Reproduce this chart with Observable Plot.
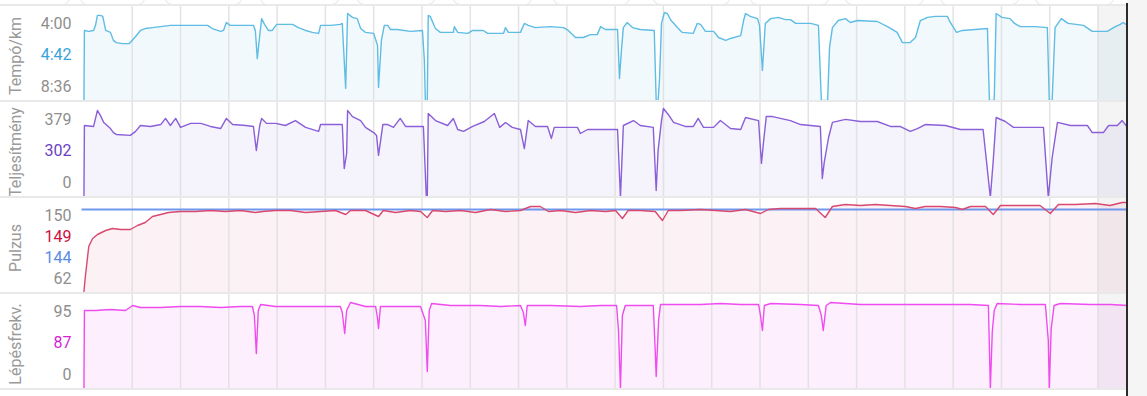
<!DOCTYPE html>
<html><head><meta charset="utf-8">
<script src="https://cdn.jsdelivr.net/npm/d3@7"></script>
<script src="https://cdn.jsdelivr.net/npm/@observablehq/plot@0.6"></script>
<style>
body{margin:0;background:#fff;font-family:Roboto,sans-serif;}
#wrap{position:relative;width:1147px;height:396px;overflow:hidden;background:#fff;}
.panel{position:absolute;left:0;width:1147px;height:96px;}
.panel svg{display:block;}
.sep{position:absolute;left:0;width:1127px;height:2px;background:#e9e9e9;}
.tab{position:absolute;top:-12px;height:15px;border:1px solid #e3e3e3;border-radius:7px;background:#fff;}
#rightbg{position:absolute;left:1127px;top:0;width:20px;height:396px;background:#f5f5f5;}
#cursor{position:absolute;left:1126px;top:3px;width:1.6px;height:393px;background:#2b2b2b;}
</style></head><body><div id="wrap"></div>
<script>
// ---- data (x in km) ----
const gridKm = [1,2,3,4,5,6,7,8,9,10,11,12,13,14,15,16,17,18,19,20,21];
const highlightKm = [21, 21.61];

const paceKm = [0,0.01,0.10,0.20,0.24,0.28,0.34,0.39,0.45,0.55,0.61,0.67,0.80,0.94,1.07,1.17,1.27,1.42,1.59,1.79,2.00,2.31,2.56,2.66,2.83,2.89,2.95,3.03,3.35,3.51,3.55,3.59,3.64,3.68,3.74,3.82,3.90,3.99,4.17,4.32,4.44,4.59,4.73,4.86,4.90,5.11,5.31,5.35,5.42,5.46,5.56,5.66,5.73,5.83,6.00,6.08,6.10,6.16,6.22,6.29,6.35,6.49,6.76,7.01,7.05,7.07,7.11,7.13,7.17,7.28,7.38,7.65,7.67,7.74,7.95,8.05,8.27,8.36,8.69,8.73,8.79,9.04,9.12,9.20,9.35,9.66,9.93,10.03,10.18,10.34,10.49,10.63,10.70,10.80,11.05,11.09,11.13,11.17,11.25,11.36,11.52,11.81,11.85,11.89,11.92,11.96,12.02,12.08,12.16,12.29,12.39,12.62,12.70,12.77,12.87,13.04,13.14,13.29,13.39,13.60,13.66,13.70,13.80,13.95,13.99,14.05,14.11,14.22,14.38,14.53,14.63,14.74,15.05,15.21,15.27,15.40,15.44,15.50,15.62,15.77,15.87,16.02,16.43,16.64,16.84,16.95,17.11,17.22,17.32,17.47,17.63,17.88,17.94,18.07,18.19,18.46,18.71,18.75,18.85,18.89,19.01,19.18,19.27,19.39,19.70,19.95,19.99,20.05,20.11,20.24,20.38,20.70,20.88,21.19,21.36,21.46,21.52,21.61];
const paceSec = [516,294,297,294,278,247,247,250,294,300,325,332,335,335,313,294,288,285,282,278,278,278,278,288,297,294,269,278,278,278,294,382,310,257,275,294,294,275,275,275,285,294,300,303,278,278,275,272,475,241,253,257,288,300,303,341,472,325,278,278,291,291,297,294,388,513,513,247,250,288,300,300,282,300,303,294,294,303,303,285,300,300,272,278,285,282,285,294,316,316,307,307,282,291,291,444,357,285,269,285,291,294,513,513,444,272,238,241,263,285,300,303,272,275,297,297,316,325,319,310,263,241,250,257,278,419,272,257,253,260,260,272,272,278,513,513,347,285,263,257,269,263,266,282,300,332,332,316,263,253,250,250,269,300,294,291,288,513,513,241,253,257,272,282,282,285,513,513,285,257,272,278,297,297,282,275,269,278];

const powerKm = [0,0.01,0.20,0.24,0.28,0.34,0.41,0.55,0.61,0.67,0.96,1.07,1.17,1.38,1.59,1.69,1.79,1.90,2.00,2.21,2.42,2.62,2.83,2.95,3.08,3.35,3.51,3.57,3.64,3.68,3.78,3.97,4.17,4.38,4.59,4.86,4.90,5.21,5.35,5.39,5.44,5.46,5.56,5.73,5.83,6.00,6.06,6.10,6.19,6.29,6.41,6.55,6.66,7.03,7.09,7.11,7.13,7.28,7.53,7.65,7.74,7.86,8.05,8.29,8.50,8.61,8.73,8.87,9.04,9.12,9.20,9.35,9.60,9.68,9.74,10.22,10.28,10.43,11.05,11.11,11.17,11.38,11.52,11.79,11.85,11.89,11.96,12.00,12.10,12.21,12.45,12.62,12.72,12.83,13.04,13.18,13.39,13.60,13.70,13.97,14.03,14.07,14.13,14.26,14.63,14.84,15.25,15.29,15.33,15.42,15.50,15.77,16.08,16.43,16.70,16.90,17.11,17.26,17.42,17.84,18.15,18.62,18.77,18.83,18.89,19.08,19.25,19.87,19.97,20.05,20.16,20.43,20.78,20.88,21.11,21.22,21.40,21.50,21.61];
const powerW = [0,306,302,336,370,349,319,293,276,268,264,281,306,302,310,336,306,336,298,315,315,302,293,336,310,306,302,200,306,336,315,315,306,327,298,281,310,310,310,123,187,370,344,327,298,276,264,179,310,310,298,336,302,302,0,0,357,327,306,336,289,281,302,323,357,298,319,298,289,208,327,302,302,251,298,298,272,289,289,0,306,327,306,298,30,200,327,378,353,319,302,302,336,298,298,327,293,289,340,327,145,230,344,344,327,310,302,81,149,255,319,332,323,323,302,302,281,293,310,306,289,289,0,157,340,323,298,298,0,170,319,306,306,276,276,306,306,327,298];

const pulseKm = [0,0.03,0.10,0.18,0.28,0.45,0.59,0.76,0.96,1.11,1.27,1.42,1.59,1.75,2.00,2.31,2.62,2.93,3.24,3.55,3.70,3.97,4.28,4.59,4.90,5.21,5.42,5.52,5.83,6.10,6.20,6.45,6.76,6.97,7.11,7.22,7.49,7.80,8.11,8.42,8.73,9.04,9.25,9.45,9.62,9.87,10.18,10.49,10.80,11.01,11.15,11.27,11.52,11.83,11.98,12.10,12.35,12.77,13.08,13.39,13.70,14.01,14.17,14.42,14.84,15.15,15.35,15.50,15.77,16.08,16.39,16.70,17.01,17.22,17.42,17.74,18.05,18.19,18.36,18.67,18.83,18.98,19.39,19.80,20.01,20.18,20.53,20.94,21.25,21.50,21.61];
const pulseBpm = [62,77,107,115,119,123,125,124,124,128,131,137,139,141,142,142,143,142,143,141,142,143,143,141,142,143,139,143,143,137,143,141,143,142,136,143,142,143,141,144,142,143,147,147,142,143,141,143,142,143,135,143,143,142,133,143,143,144,143,142,144,140,144,145,145,145,136,147,149,148,149,148,147,145,147,147,146,144,147,147,139,148,148,148,140,149,149,150,148,151,151];
const pulseRef = [144];

const cadKm = [0,0.01,0.24,0.55,0.86,1.01,1.17,1.59,2.00,2.41,2.83,3.24,3.49,3.53,3.57,3.61,3.66,3.97,4.49,4.90,5.31,5.35,5.40,5.44,5.52,5.83,6.04,6.08,6.10,6.14,6.45,6.97,7.07,7.11,7.15,7.20,7.59,8.21,8.63,9.04,9.10,9.14,9.18,9.66,10.28,10.70,11.03,11.07,11.11,11.15,11.21,11.52,11.79,11.83,11.85,11.90,11.94,12.35,12.77,13.18,13.60,13.97,14.01,14.05,14.09,14.22,14.84,15.21,15.27,15.31,15.37,15.46,16.08,16.91,17.74,18.36,18.73,18.77,18.81,18.85,18.91,19.39,19.91,19.97,19.99,20.03,20.09,20.22,20.84,21.25,21.61];
const cadSpm = [0,90.5,90.5,91.7,90.5,96.3,94.0,94.0,95.1,95.1,94.0,95.1,95.1,84.8,41.2,90.5,97.4,95.1,95.1,95.1,95.1,88.2,64.2,90.5,99.7,95.1,95.1,81.4,69.9,95.1,95.1,95.1,79.1,20.6,90.5,98.5,96.3,96.3,95.1,96.3,88.2,73.3,96.3,96.3,95.1,96.3,96.3,67.6,1.1,84.8,96.3,96.3,96.3,44.7,14.9,79.1,97.4,97.4,97.4,98.5,97.4,97.4,84.8,67.6,96.3,98.5,97.4,96.3,84.8,67.6,96.3,99.7,97.4,97.4,97.4,97.4,96.3,1.1,66.5,90.5,98.5,97.4,97.4,56.1,1.1,69.9,96.3,98.5,97.4,97.4,96.3];

const titles = ["Tempó/km", "Teljesítmény", "Pulzus", "Lépésfrekv."];
const paceLabels = ["4:00", "4:42", "8:36"];
const powerLabels = ["379", "302", "0"];
const pulseLabels = ["150", "149", "144", "62"];
const cadLabels = ["95", "87", "0"];

// ---- layout ----
const wrap = document.getElementById("wrap");
const GRAY = "#8e8e8e";
const tabs = [[-20,68],[80,143],[165,240],[260,337],[357,433],[453,530],[553,628],[653,728],[750,827],[845,922],[940,1017],[1035,1112]];
tabs.forEach(([a,b]) => {
  const t = document.createElement("div");
  t.className = "tab"; t.style.left = a + "px"; t.style.width = (b - a) + "px";
  wrap.appendChild(t);
});

const panels = [
  {top:5, km:paceKm, val:paceSec, domain:[216,516], reverse:true, base:516,
   color:"#5fbde3", area:"#f2f9fd", title:titles[0], labels:paceLabels,
   labelColors:[GRAY,"#3aa3d9",GRAY]},
  {top:101, km:powerKm, val:powerW, domain:[0,408], reverse:false, base:0,
   color:"#8a5fd8", area:"#f5f3fb", title:titles[1], labels:powerLabels,
   labelColors:[GRAY,"#6b3fc2",GRAY]},
  {top:197, km:pulseKm, val:pulseBpm, domain:[60,156], reverse:false, base:60,
   color:"#d9486f", area:"#fcf1f4", title:titles[2], labels:pulseLabels,
   labelColors:[GRAY,"#cc1040","#5a8ae6",GRAY], rule:pulseRef, ruleColor:"#6f98ec"},
  {top:293, km:cadKm, val:cadSpm, domain:[0,110], reverse:false, base:0,
   color:"#ef4cef", area:"#fdeffd", title:titles[3], labels:cadLabels,
   labelColors:[GRAY,"#d41fd4",GRAY]}
];

panels.forEach(p => {
  const data = p.km.map((k,i) => ({km:k, v:p.val[i]}));
  const n = p.labels.length;
  const step = (81 - 18) / (n - 1);
  const marks = [
    Plot.areaY(data, {x:"km", y1:p.base, y2:"v", fill:p.area}),
    Plot.rect([highlightKm], {x1:d=>d[0], x2:d=>d[1], fill:"#000", fillOpacity:0.045}),
    Plot.ruleX(gridKm, {stroke:"#dedede", strokeOpacity:0.85, strokeWidth:1.5}),
  ];
  if (p.rule) marks.push(Plot.ruleY(p.rule, {stroke:p.ruleColor, strokeWidth:2}));
  marks.push(Plot.line(data, {x:"km", y:"v", stroke:p.color, strokeWidth:1.4}));
  marks.push(Plot.text([p.title], {text:d=>d, frameAnchor:"left", dx:-66.5, dy:2.5, rotate:-90,
    textAnchor:"middle", lineAnchor:"middle", fill:"#9a9a9a", fontSize:16}));
  p.labels.forEach((l,i) => {
    marks.push(Plot.text([l], {text:d=>d, frameAnchor:"top-left", dx:-10.5, dy:18 + i*step,
      textAnchor:"end", lineAnchor:"middle", fill:p.labelColors[i], fontSize:16}));
  });
  const svg = Plot.plot({
    width:1147, height:96, marginLeft:81.5, marginRight:20, marginTop:0, marginBottom:0,
    x:{domain:[-0.04, 21.61], axis:null},
    y:{domain:p.domain, reverse:p.reverse, axis:null},
    style:{fontFamily:"Roboto, sans-serif", background:"transparent"},
    marks
  });
  const div = document.createElement("div");
  div.className = "panel"; div.style.top = p.top + "px";
  div.appendChild(svg);
  wrap.appendChild(div);
});

[4,100,196,292,388].forEach(y => {
  const s = document.createElement("div");
  s.className = "sep"; s.style.top = y + "px";
  wrap.appendChild(s);
});
const rb = document.createElement("div"); rb.id = "rightbg"; wrap.appendChild(rb);
const cur = document.createElement("div"); cur.id = "cursor"; wrap.appendChild(cur);
</script></body></html>
